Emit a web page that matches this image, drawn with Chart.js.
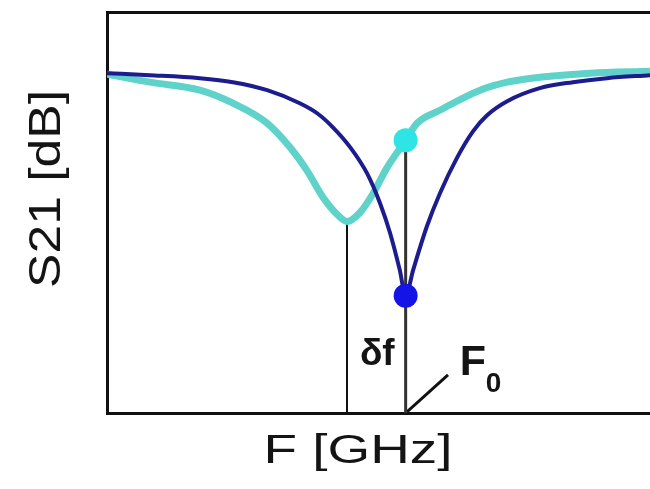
<!DOCTYPE html>
<html>
<head>
<meta charset="utf-8">
<script src="https://cdn.jsdelivr.net/npm/chart.js@4"></script>
<style>
  html, body { margin: 0; padding: 0; background: #fff; }
  .wrap { width: 650px; height: 489px; }
</style>
</head>
<body>
<div class="wrap"><canvas id="chart"></canvas></div>
<script>
// resonance at F0 (dark blue)
const refFreq = [0, 0.79, 1.71, 2.32, 2.95, 3.55, 3.87, 4.16, 4.48, 4.79, 5.03, 5.21, 5.39, 5.5, 5.64, 5.89, 6.13, 6.45, 6.74, 7.0, 7.37, 7.97, 8.58, 9.21, 10];
const refS21 = [-6.1, -6.3, -6.6, -7.0, -7.8, -9.1, -10.1, -11.5, -13.5, -16.1, -19.1, -22.0, -25.7, -28.3, -25.7, -21.4, -18.1, -14.5, -11.9, -10.3, -8.9, -7.6, -7.0, -6.6, -6.3];

// shifted resonance (cyan)
const shiftedFreq = [0, 0.79, 1.71, 2.32, 2.95, 3.37, 3.68, 3.98, 4.24, 4.42, 4.66, 4.9, 5.16, 5.5, 5.71, 6.13, 6.87, 7.37, 7.97, 8.9, 10];
const shiftedS21 = [-6.2, -7.0, -7.8, -9.1, -11.1, -13.5, -15.8, -18.5, -20.2, -20.9, -20.0, -18.1, -15.5, -12.8, -11.1, -9.8, -7.8, -7.0, -6.5, -6.1, -5.9];

const f0 = 5.5;
const f0RefS21 = -28.3;
const f0ShiftedS21 = -12.8;
const shiftedMinFreq = 4.42;
const shiftedMinS21 = -20.9;
const pointerEnd = [6.28, -36.2];

const xRange = [0, 10];
const yRange = [-40, 0];

const toPoints = (xs, ys) => xs.map((x, i) => ({ x: x, y: ys[i] }));

const FONT = '"Liberation Sans", Arial, Helvetica, sans-serif';

// axis titles and annotation text
const labelsPlugin = {
  id: 'labels',
  afterDraw(chart) {
    const ctx = chart.ctx;
    const xs = chart.scales.x, ys = chart.scales.y;
    const area = chart.chartArea;
    ctx.save();
    ctx.fillStyle = '#141414';
    ctx.textBaseline = 'alphabetic';

    // x title, stretched a little wide
    ctx.font = '41px ' + FONT;
    let w = ctx.measureText('F [GHz]').width;
    ctx.save();
    ctx.translate(area.left + 251, area.bottom + 50);
    ctx.scale(189 / w, 1);
    ctx.textAlign = 'center';
    ctx.fillText('F [GHz]', 0, 0);
    ctx.restore();

    // y title
    ctx.font = '44px ' + FONT;
    w = ctx.measureText('S21 [dB]').width;
    ctx.save();
    ctx.translate(60, area.top + 177);
    ctx.rotate(-Math.PI / 2);
    ctx.scale(198 / w, 1);
    ctx.textAlign = 'center';
    ctx.fillText('S21 [dB]', 0, 0);
    ctx.restore();

    const px = xs.getPixelForValue(f0);
    const base = ys.getPixelForValue(yRange[0]);

    ctx.font = 'bold 37px ' + FONT;
    ctx.textAlign = 'right';
    ctx.fillText('δf', px - 11, base - 48);

    ctx.textAlign = 'left';
    ctx.font = 'bold 43px ' + FONT;
    ctx.fillText('F', px + 54, base - 38);
    ctx.font = 'bold 28px ' + FONT;
    ctx.fillText('0', px + 80, base - 21);
    ctx.restore();
  }
};

new Chart(document.getElementById('chart'), {
  type: 'line',
  data: {
    datasets: [
      {
        data: [{ x: f0, y: f0RefS21 }],
        showLine: false,
        pointRadius: 12,
        pointBackgroundColor: '#1414e6',
        pointBorderWidth: 0,
        order: 0
      },
      {
        data: [{ x: f0, y: f0ShiftedS21 }],
        showLine: false,
        pointRadius: 12,
        pointBackgroundColor: '#2ee4e4',
        pointBorderWidth: 0,
        order: 1
      },
      {
        data: toPoints(refFreq, refS21),
        borderColor: '#1c1c8e',
        borderWidth: 4,
        pointRadius: 0,
        cubicInterpolationMode: 'monotone',
        order: 2
      },
      {
        data: toPoints(shiftedFreq, shiftedS21),
        borderColor: '#5fd3c9',
        borderWidth: 7,
        pointRadius: 0,
        cubicInterpolationMode: 'monotone',
        order: 3
      },
      {
        // drop line from the F0 point of the shifted curve
        data: [{ x: f0, y: f0ShiftedS21 }, { x: f0, y: yRange[0] }],
        borderColor: '#333',
        borderWidth: 3,
        pointRadius: 0,
        order: 4
      },
      {
        // drop line from the shifted minimum
        data: [{ x: shiftedMinFreq, y: shiftedMinS21 }, { x: shiftedMinFreq, y: yRange[0] }],
        borderColor: '#111',
        borderWidth: 2,
        pointRadius: 0,
        order: 5
      },
      {
        // pointer to the F0 label
        data: [{ x: f0, y: yRange[0] }, { x: pointerEnd[0], y: pointerEnd[1] }],
        borderColor: '#111',
        borderWidth: 3,
        pointRadius: 0,
        order: 6
      }
    ]
  },
  options: {
    responsive: true,
    maintainAspectRatio: false,
    animation: false,
    events: [],
    layout: { padding: 0, autoPadding: false },
    plugins: {
      legend: { display: false },
      tooltip: { enabled: false },
      title: { display: false }
    },
    scales: {
      x: {
        type: 'linear',
        position: 'bottom',
        min: xRange[0],
        max: xRange[1],
        grid: { display: false },
        ticks: { display: false },
        border: { display: true, color: '#111', width: 3 },
        afterFit(scale) { scale.height = 76; }
      },
      xTop: {
        type: 'linear',
        position: 'top',
        min: xRange[0],
        max: xRange[1],
        grid: { display: false },
        ticks: { display: false },
        border: { display: true, color: '#111', width: 3 },
        afterFit(scale) { scale.height = 12; }
      },
      y: {
        type: 'linear',
        min: yRange[0],
        max: yRange[1],
        grid: { display: false },
        ticks: { display: false },
        border: { display: true, color: '#111', width: 3 },
        afterFit(scale) { scale.width = 107; }
      }
    }
  },
  plugins: [labelsPlugin]
});
</script>
</body>
</html>
